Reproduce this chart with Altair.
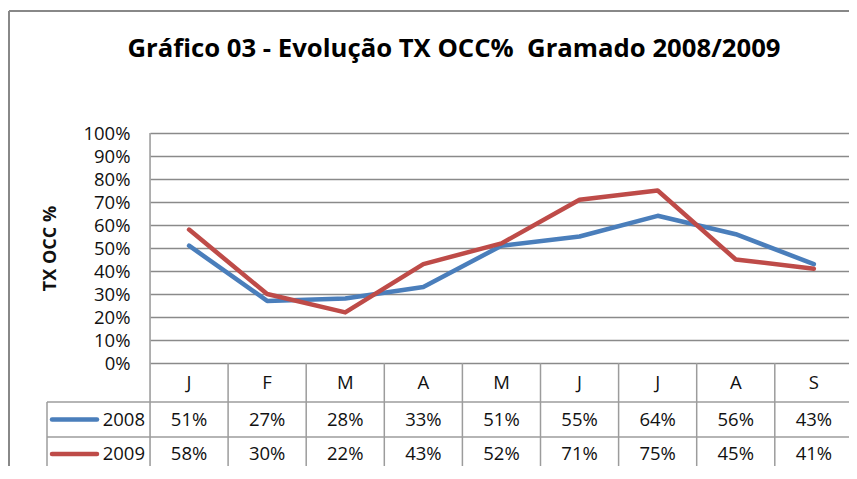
import altair as alt
import pandas as pd

# ---------------- data ----------------
months = ["J", "F", "M", "A", "M", "J", "J", "A", "S"]
years = ["2008", "2009"]
occ_2008 = [51, 27, 28, 33, 51, 55, 64, 56, 43]
occ_2009 = [58, 30, 22, 43, 52, 71, 75, 45, 41]
y_ticks = [0, 10, 20, 30, 40, 50, 60, 70, 80, 90, 100]
colors = ["#4A7EBB", "#BE4B48"]
title_text = "Gráfico 03 - Evolução TX OCC%\u00a0 Gramado 2008/2009"
y_title = "TX OCC %"

# ---------------- layout (pixels -> scale units) ----------------
PX_CAT = 78.1          # pixels per month column
PX_FULL = 230.0        # pixels for 100 %
PLOT_W = 699
PAD_L, PAD_T = 142, 125
SVG_H = 458
PLOT_H = SVG_H - PAD_T                 # 333


def yu(px_below_zero):
    return -px_below_zero / PX_FULL


def xu(px_from_left):
    return px_from_left / PX_CAT


Y_MIN = yu(PLOT_H - PX_FULL)           # bottom of the svg
ROW1_MID, ROW1_END = yu(19.5), yu(39)
ROW2_MID, ROW2_END = yu(56.5), yu(74)
ROW3_MID = yu(91)
LEG_LEFT = xu(-103)
X_MAX = PLOT_W / PX_CAT
TITLE_X, TITLE_Y = xu(304), yu(-306)

FONT = "Open Sans"
GRID = "#8a8a8a"
TABLE = "#9c9c9c"
FS = 18.5

n = len(months)
series = {"2008": occ_2008, "2009": occ_2009}
row_mid = {"2008": ROW2_MID, "2009": ROW3_MID}

lines_df = pd.DataFrame(
    [{"x": i + 0.5, "year": y, "v": series[y][i] / 100, "ord": i}
     for y in years for i in range(n)]
)
month_df = pd.DataFrame({"x": [i + 0.5 for i in range(n)], "m": months, "y": ROW1_MID})
vals_df = pd.DataFrame(
    [{"x": i + 0.5, "year": y, "t": f"{series[y][i]}%", "y": row_mid[y]}
     for y in years for i in range(n)]
)
vcols_df = pd.DataFrame(
    [{"x": 0, "y": 1.0, "y2": Y_MIN}] + [{"x": i, "y": 0.0, "y2": Y_MIN} for i in range(1, n + 1)]
    + [{"x": LEG_LEFT, "y": ROW1_END, "y2": Y_MIN}]
)
hrows_df = pd.DataFrame({"y": [ROW1_END, ROW2_END], "x": LEG_LEFT, "x2": n})
legend_df = pd.DataFrame({
    "year": years,
    "y": [ROW2_MID, ROW3_MID],
    "x1": xu(-98), "x2": xu(-53), "xt": xu(-5),
})
title_df = pd.DataFrame({"t": [title_text], "x": [TITLE_X], "y": [TITLE_Y]})

x_scale = alt.Scale(domain=[0, X_MAX], nice=False, zero=False)
y_scale = alt.Scale(domain=[Y_MIN, 1.0], nice=False, zero=False)
color_scale = alt.Scale(domain=years, range=colors)

y_axis = alt.Axis(
    values=[t / 100 for t in y_ticks], tickCount=len(y_ticks) + 5, format=".0%",
    grid=True, gridColor=GRID, gridWidth=1.5, domain=False, ticks=False,
    labelPadding=20, labelFont=FONT, labelFontSize=FS, labelColor="#111",
    labelOverlap=False, labelBound=False,
    title=y_title, titleFont=FONT,
    titleFontSize=18, titleFontWeight="bold", titleColor="#111",
    titleX=-100, titleY=115, titleAngle=-90, titleAlign="center",
    titleBaseline="middle",
)

X = lambda f="x": alt.X(f"{f}:Q", scale=x_scale, axis=None)

lines = alt.Chart(lines_df).mark_line(strokeWidth=4.5, strokeJoin="round", strokeCap="round").encode(
    x=X(),
    y=alt.Y("v:Q", scale=y_scale, axis=y_axis),
    color=alt.Color("year:N", scale=color_scale, legend=None),
    order="ord:Q",
    detail="year:N",
)

vcols = alt.Chart(vcols_df).mark_rule(color=TABLE, strokeWidth=1.5).encode(
    x=X(), y=alt.Y("y:Q", scale=y_scale), y2="y2:Q"
)
hrows = alt.Chart(hrows_df).mark_rule(color=TABLE, strokeWidth=1.5).encode(
    x=X(), x2="x2:Q", y=alt.Y("y:Q", scale=y_scale)
)
month_txt = alt.Chart(month_df).mark_text(font=FONT, fontSize=FS, color="#111", baseline="middle").encode(
    x=X(), y=alt.Y("y:Q", scale=y_scale), text="m:N"
)
val_txt = alt.Chart(vals_df).mark_text(font=FONT, fontSize=FS, color="#111", baseline="middle").encode(
    x=X(), y=alt.Y("y:Q", scale=y_scale), text="t:N"
)
leg_keys = alt.Chart(legend_df).mark_rule(strokeWidth=4.5, strokeCap="round").encode(
    x=X("x1"), x2="x2:Q", y=alt.Y("y:Q", scale=y_scale),
    color=alt.Color("year:N", scale=color_scale, legend=None),
)
leg_txt = alt.Chart(legend_df).mark_text(font=FONT, fontSize=FS, color="#111", align="right", baseline="middle").encode(
    x=X("xt"), y=alt.Y("y:Q", scale=y_scale), text="year:N"
)
title_txt = alt.Chart(title_df).mark_text(
    font=FONT, fontSize=25.7, fontWeight="bold", color="#000", align="center", baseline="alphabetic"
).encode(x=X(), y=alt.Y("y:Q", scale=y_scale), text="t:N")
border_left = alt.Chart(legend_df).mark_rule(color="#888", strokeWidth=2).encode(
    x=alt.value(-PAD_L + 1), y=alt.value(-PAD_T + 3), y2=alt.value(PLOT_H)
)
border_top = alt.Chart(legend_df).mark_rule(color="#888", strokeWidth=2).encode(
    x=alt.value(-PAD_L + 1), x2=alt.value(PLOT_W), y=alt.value(-PAD_T + 3)
)

chart = alt.layer(
    vcols, hrows, lines, month_txt, val_txt, leg_keys, leg_txt, title_txt, border_left, border_top
).properties(
    width=PLOT_W, height=PLOT_H,
    padding={"left": PAD_L, "top": PAD_T, "right": 0, "bottom": 0},
    autosize=alt.AutoSizeParams(type="none"),
).configure_view(stroke=None).configure(background="white")

chart.save("out.html", embed_options={"renderer": "svg", "actions": False})
